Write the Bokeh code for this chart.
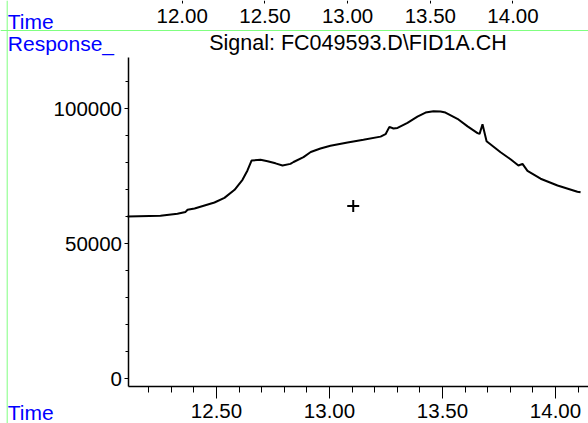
from bokeh.plotting import figure
from bokeh.models import (Range1d, LinearAxis, SingleIntervalTicker, NumeralTickFormatter,
                          Label, Span)
from bokeh.embed import file_html
from bokeh.resources import INLINE

# ---- data ----
time_min = [12.106, 12.252, 12.327, 12.363, 12.372, 12.403, 12.491, 12.535, 12.580,
            12.615, 12.637, 12.655, 12.695, 12.726, 12.761, 12.792, 12.827, 12.841,
            12.885, 12.917, 12.960, 13.004, 13.080, 13.150, 13.226, 13.248, 13.265,
            13.283, 13.301, 13.345, 13.389, 13.425, 13.460, 13.491, 13.513, 13.566,
            13.611, 13.655, 13.664, 13.677, 13.695, 13.757, 13.801, 13.836, 13.854,
            13.876, 13.934, 14.009, 14.097, 14.111]
response = [60100, 60350, 61100, 61800, 62600, 63100, 65300, 67000, 70000,
            73700, 77150, 80850, 81100, 80600, 79800, 79000, 79600, 80300,
            82100, 84000, 85300, 86300, 87500, 88500, 89700, 90600, 93300,
            92700, 92900, 94800, 97100, 98600, 99100, 99000, 98600, 96300,
            93500, 91000, 90700, 94300, 88000, 83900, 81300, 79000, 79600,
            77000, 74100, 71600, 69300, 69100]
marker_time = [13.105]
marker_resp = [64000]

title_text = "Signal: FC049593.D\\FID1A.CH"
x_label = "Time"
y_label = "Response_"

FONT = "Liberation Sans"
BLUE = "#0000ff"
GREEN = "#80ff80"
TICK_FS = "20.5px"
BLUE_FS = 21
TITLE_FS = 21.5

W, H = 588, 423
# main scales: pixel <-> data (the frame fills the whole canvas)
X0, X1 = 11.5442, 14.146          # time at canvas left / right
Y0, Y1 = -16556, 140111           # response at canvas bottom / top
TOP0, TOP1 = 10.9015, 14.4565     # overview time axis at canvas left / right


def px_x(px):
    return X0 + (X1 - X0) * px / W


def px_y(py):
    return Y1 - (Y1 - Y0) * py / H


p = figure(width=W, height=H, x_range=Range1d(X0, X1), y_range=Range1d(Y0, Y1),
           output_backend="svg", toolbar_location=None,
           x_axis_location=None, y_axis_location=None,
           min_border=0, min_border_left=0, min_border_right=0,
           min_border_top=0, min_border_bottom=0)
p.title.visible = False
p.outline_line_color = None
p.grid.visible = False
p.background_fill_color = "white"
p.border_fill_color = "white"

frame_left, frame_top, frame_bottom = px_x(127.5), px_y(57), px_y(386)


def style(ax):
    ax.major_label_text_font = FONT
    ax.major_label_text_font_size = TICK_FS
    ax.major_label_text_color = "black"
    ax.axis_line_color = "black"
    ax.axis_line_width = 1.5
    ax.major_tick_line_color = "black"
    ax.minor_tick_line_color = "black"
    ax.major_tick_in = 0
    ax.minor_tick_in = 0


# bottom time axis
xa = LinearAxis(fixed_location=frame_bottom, bounds=(frame_left, X1),
                ticker=SingleIntervalTicker(interval=0.5, num_minor_ticks=5),
                formatter=NumeralTickFormatter(format="0.00"))
style(xa)
xa.major_tick_out = 12
xa.minor_tick_out = 6
xa.major_label_standoff = 5
p.add_layout(xa, "below")

# left response axis
ya = LinearAxis(fixed_location=frame_left, bounds=(frame_bottom, frame_top),
                ticker=SingleIntervalTicker(interval=50000, num_minor_ticks=5),
                formatter=NumeralTickFormatter(format="0"))
style(ya)
ya.major_tick_out = 4
ya.minor_tick_out = 3
ya.major_label_standoff = 2
p.add_layout(ya, "left")

# overview time axis on top
p.extra_x_ranges = {"top": Range1d(TOP0, TOP1)}
ta = LinearAxis(x_range_name="top", fixed_location=Y1, bounds=(11.9, 14.4),
                ticker=SingleIntervalTicker(interval=0.5, num_minor_ticks=0),
                formatter=NumeralTickFormatter(format="0.00"))
style(ta)
ta.axis_line_color = None
ta.major_tick_out = 3
ta.major_label_standoff = 5
p.add_layout(ta, "below")

# data
p.line(time_min, response, line_color="black", line_width=2)
p.scatter(marker_time, marker_resp, marker="cross", size=12,
          line_color="black", line_width=2)

# green separator lines
p.add_layout(Span(location=px_x(6.7), dimension="height", line_color=GREEN, line_width=1))
p.add_layout(Span(location=px_y(30), dimension="width", line_color=GREEN, line_width=1))


# texts: labels are placed by the vertical middle of their text box
def mid(baseline_px, fs):
    return px_y(baseline_px - 0.3465 * fs)


def lab(x_px, baseline_px, text, color, fs, align="left"):
    p.add_layout(Label(x=px_x(x_px), y=mid(baseline_px, fs), text=text, text_color=color,
                       text_font=FONT, text_font_size=f"{fs}px", text_baseline="middle",
                       text_align=align))


lab(7.3, 28, x_label, BLUE, BLUE_FS)
lab(7.3, 50, y_label, BLUE, BLUE_FS)
lab(7.3, 419.5, x_label, BLUE, BLUE_FS)
lab(357.5, 50, title_text, "black", TITLE_FS, align="center")

open("out.html", "w").write(file_html(p, INLINE))
